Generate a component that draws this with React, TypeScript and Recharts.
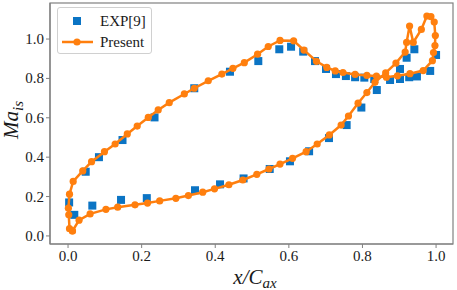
import React from 'react';
import { ScatterChart, Scatter, XAxis, YAxis } from 'recharts';

// EXP[9] measured points (x/Cax, Ma_is)
const expX = [
  0.003, 0.017, 0.048, 0.084, 0.148, 0.235, 0.343, 0.440, 0.517, 0.574,
  0.606, 0.639, 0.671, 0.701, 0.728, 0.755, 0.780, 0.805, 0.832, 0.875,
  0.902, 0.927, 0.948, 0.984, 1.000,
  0.066, 0.144, 0.214, 0.345, 0.413, 0.477, 0.548, 0.603, 0.655, 0.709,
  0.757, 0.797, 0.839, 0.902, 0.920, 0.941,
];
const expY = [
  0.170, 0.107, 0.326, 0.400, 0.487, 0.602, 0.750, 0.834, 0.888, 0.948,
  0.961, 0.936, 0.888, 0.848, 0.822, 0.812, 0.806, 0.804, 0.797, 0.792,
  0.797, 0.806, 0.810, 0.838, 0.919,
  0.154, 0.183, 0.192, 0.232, 0.262, 0.292, 0.340, 0.379, 0.430, 0.497,
  0.563, 0.652, 0.741, 0.848, 0.905, 0.948,
];

// Present computation (closed loop around the blade, in drawing order)
const presentX = [
  0.012, 0.030, 0.060, 0.103, 0.135, 0.182, 0.216, 0.249, 0.293, 0.327,
  0.366, 0.398, 0.437, 0.475, 0.513, 0.546, 0.576, 0.610, 0.647, 0.677,
  0.710, 0.742, 0.762, 0.788, 0.812, 0.834, 0.863, 0.891, 0.916, 0.920,
  0.928, 0.938, 0.960, 0.975, 0.986, 0.995, 0.998, 0.997, 0.993, 0.990,
  0.965, 0.929, 0.895, 0.865, 0.838, 0.812, 0.780, 0.747, 0.726, 0.703,
  0.675, 0.641, 0.613, 0.576, 0.544, 0.515, 0.479, 0.448, 0.418, 0.381,
  0.343, 0.316, 0.275, 0.245, 0.218, 0.188, 0.161, 0.128, 0.099, 0.064,
  0.040, 0.014, 0.004, 0.001, 0.002, 0.004, 0.012,
];
const presentY = [
  0.025, 0.080, 0.112, 0.135, 0.146, 0.158, 0.167, 0.178, 0.191, 0.205,
  0.222, 0.239, 0.260, 0.284, 0.313, 0.340, 0.365, 0.394, 0.428, 0.467,
  0.513, 0.563, 0.609, 0.674, 0.728, 0.780, 0.828, 0.878, 0.934, 0.983,
  1.066, 0.983, 1.049, 1.117, 1.114, 1.086, 1.018, 0.967, 0.931, 0.890,
  0.840, 0.824, 0.813, 0.806, 0.812, 0.815, 0.820, 0.830, 0.838, 0.856,
  0.887, 0.944, 0.991, 0.993, 0.962, 0.923, 0.880, 0.851, 0.822, 0.788,
  0.750, 0.721, 0.677, 0.640, 0.602, 0.558, 0.518, 0.467, 0.428, 0.377,
  0.330, 0.277, 0.212, 0.141, 0.107, 0.037, 0.025,
];

const xTicks = [0, 0.2, 0.4, 0.6, 0.8, 1.0];
const yTicks = [0, 0.2, 0.4, 0.6, 0.8, 1.0];
const xDomain = [-0.049, 1.046];
const yDomain = [-0.041, 1.183];
const seriesNames = ['EXP[9]', 'Present'];

const expData = expX.map((x, i) => ({ x, y: expY[i] }));
const presentData = presentX.map((x, i) => ({ x, y: presentY[i] }));

const BLUE = '#0b74c4';
const ORANGE = '#ff7f0e';
const SPINE = 'rgb(128,128,128)';
const TEXT = '#1a1a1a';
const SERIF = 'Liberation Serif';

const Square = (p: any) => (
  <rect x={p.cx - 4} y={p.cy - 4} width={8} height={8} fill={BLUE} />
);
const Dot = (p: any) => <circle cx={p.cx} cy={p.cy} r={3.6} fill={ORANGE} />;

function XTick(p: any) {
  return (
    <text x={p.x} y={p.y + 11} textAnchor="middle" fontFamily={SERIF} fontSize={15} fill={TEXT}>
      {Number(p.payload.value).toFixed(1)}
    </text>
  );
}

function YTick(p: any) {
  return (
    <text x={p.x} y={p.y + 5} textAnchor="end" fontFamily={SERIF} fontSize={15} fill={TEXT}>
      {Number(p.payload.value).toFixed(1)}
    </text>
  );
}

const Overlay = () => (
  <svg
    width={457}
    height={290}
    style={{ position: 'absolute', left: 0, top: 0, pointerEvents: 'none', zIndex: 5 }}
  >
    <rect x={50} y={3} width={403} height={241} fill="none" stroke={SPINE} strokeWidth={1.2} />
    <text
      transform="translate(18,120) rotate(-90)"
      textAnchor="middle"
      fontFamily={SERIF}
      fontStyle="italic"
      fontSize={21}
      fill={TEXT}
    >
      <tspan>Ma</tspan>
      <tspan fontSize={15} dy={5}>is</tspan>
    </text>
    <text x={255} y={284} textAnchor="middle" fontFamily={SERIF} fontStyle="italic" fontSize={21} fill={TEXT}>
      <tspan>x/C</tspan>
      <tspan fontSize={15} dy={4}>ax</tspan>
    </text>
  </svg>
);

const LegendBox = () => (
  <div
    style={{
      position: 'absolute',
      left: 57,
      top: 7,
      width: 95,
      height: 47,
      boxSizing: 'border-box',
      border: '1px solid #d0d0d0',
      borderRadius: 3,
      background: 'rgba(255,255,255,0.8)',
      zIndex: 6,
    }}
  >
    <svg width={95} height={47} style={{ position: 'absolute', left: -1, top: -1 }}>
      <rect x={16} y={10} width={8} height={8} fill={BLUE} />
      <line x1={5} y1={35} x2={36} y2={35} stroke={ORANGE} strokeWidth={2.5} />
      <circle cx={20} cy={35} r={3.6} fill={ORANGE} />
      <text x={43} y={19} fontFamily={SERIF} fontSize={15} fill={TEXT}>{seriesNames[0]}</text>
      <text x={43} y={40} fontFamily={SERIF} fontSize={15} fill={TEXT}>{seriesNames[1]}</text>
    </svg>
  </div>
);

export default function App() {
  return (
    <div style={{ position: 'absolute', left: 0, top: 0, width: 457, height: 290, background: '#fff' }}>
      <ScatterChart width={457} height={290} margin={{ top: 3, right: 4, bottom: 0, left: 5 }}>
        <XAxis
          type="number"
          dataKey="x"
          domain={xDomain}
          ticks={xTicks}
          allowDataOverflow
          tick={XTick}
          tickSize={4}
          height={46}
          axisLine={{ stroke: SPINE, strokeWidth: 1.2 }}
          tickLine={{ stroke: SPINE, strokeWidth: 1 }}
        />
        <YAxis
          type="number"
          dataKey="y"
          domain={yDomain}
          ticks={yTicks}
          allowDataOverflow
          tick={YTick}
          tickSize={4}
          width={45}
          axisLine={{ stroke: SPINE, strokeWidth: 1.2 }}
          tickLine={{ stroke: SPINE, strokeWidth: 1 }}
        />
        <Scatter name={seriesNames[0]} data={expData} shape={Square} isAnimationActive={false} />
        <Scatter
          name={seriesNames[1]}
          data={presentData}
          shape={Dot}
          line={{ stroke: ORANGE, strokeWidth: 2.5 }}
          lineJointType="linear"
          isAnimationActive={false}
        />
      </ScatterChart>
      <Overlay />
      <LegendBox />
    </div>
  );
}
